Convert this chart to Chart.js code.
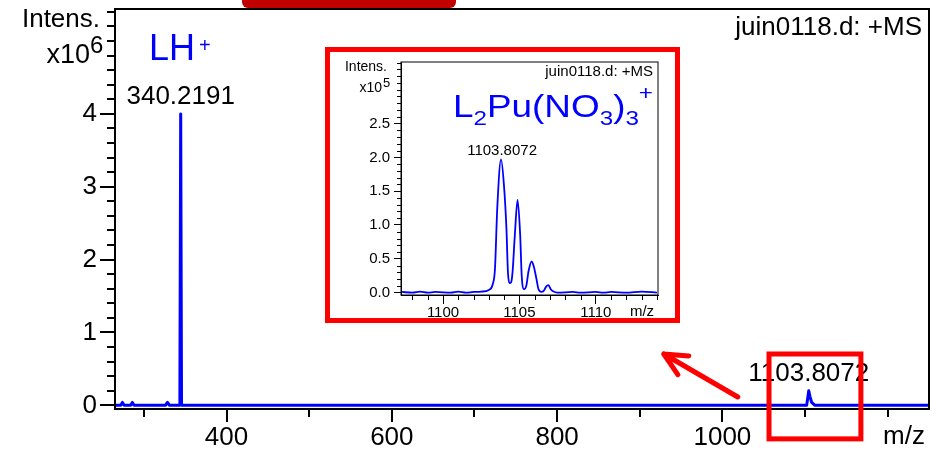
<!DOCTYPE html>
<html>
<head>
<meta charset="utf-8">
<script src="https://cdn.jsdelivr.net/npm/chart.js@4.4.1/dist/chart.umd.min.js"></script>
<style>
  body { margin: 0; background: #fff; }
  #wrap { position: relative; width: 940px; height: 450px; overflow: hidden; }
  #main { position: absolute; left: 0; top: 0; }
  #topbar { position: absolute; left: 242px; top: -6px; width: 214px; height: 14px; background: #c00000; border-radius: 6px; }
  #inset { position: absolute; left: 325px; top: 47px; width: 345px; height: 266px; border: 5px solid #ff0000; background: #fff; overflow: hidden; }
  #insetCanvas { position: absolute; left: 0; top: 0; }
</style>
</head>
<body>
<div id="wrap">
  <canvas id="main" width="940" height="450"></canvas>
  <div id="topbar"></div>
  <div id="inset"><canvas id="insetCanvas" width="345" height="266"></canvas></div>
</div>
<script>
// full spectrum, intensity x10^6
const mainMz = [265, 272, 274, 276, 284, 286, 288, 326, 328.5, 331, 343.5, 344.5, 345.5, 1102, 1104.5, 1106, 1108, 1112, 1250];
const mainIntensity = [0, 0, 0.04, 0, 0, 0.04, 0, 0, 0.04, 0, 0, 4.0, 0, 0, 0.2, 0.12, 0.04, 0, 0];
const mainXTicks = [400, 600, 800, 1000];
const mainXMinor = [300, 500, 700, 900, 1100, 1200];
const mainYTicks = [0, 1, 2, 3, 4];
const mainPeakMz = [344.5, 1104.5];
const mainPeakLabels = ["340.2191", "1103.8072"];

// zoom on the L2Pu(NO3)3+ cluster, intensity x10^5
const insetMz = [1097.3, 1098.0, 1098.5, 1099.0, 1099.5, 1100.5, 1101.0, 1101.5, 1102.0, 1102.5, 1103.0, 1103.25, 1103.4, 1103.55, 1103.8, 1104.0, 1104.15, 1104.25, 1104.35, 1104.45, 1104.55, 1104.7, 1104.88, 1105.05, 1105.15, 1105.3, 1105.45, 1105.6, 1105.8, 1105.95, 1106.1, 1106.25, 1106.45, 1106.6, 1106.75, 1106.9, 1107.05, 1107.2, 1107.5, 1108.5, 1109.0, 1110.0, 1110.5, 1111.0, 1112.0, 1113.0, 1114.0];
const insetIntensity = [0.01, 0.0, 0.015, 0.0, 0.01, 0.0, 0.015, 0.0, 0.01, 0.015, 0.04, 0.12, 0.35, 1.25, 1.97, 1.55, 0.95, 0.3, 0.14, 0.15, 0.3, 0.85, 1.37, 0.85, 0.25, 0.05, 0.1, 0.32, 0.46, 0.38, 0.22, 0.05, 0.01, 0.03, 0.09, 0.11, 0.05, 0.02, 0.0, 0.01, 0.0, 0.01, 0.0, 0.01, 0.0, 0.015, 0.0];
const insetXTicks = [1100, 1105, 1110];
const insetYTicks = [0, 0.5, 1.0, 1.5, 2.0, 2.5];
const insetPeakMz = 1103.8;
const insetPeakLabel = "1103.8072";

const FONT = "'Liberation Sans', Arial, sans-serif";
const BLUE = "#0000ff";
const RED = "#ff0000";
Chart.defaults.font.family = FONT;
Chart.defaults.color = "#000";

const steps = (from, to, step, skip) => {
  const out = [];
  for (let v = from; v <= to + 1e-9; v += step) {
    const r = Math.round(v * 100) / 100;
    if (!skip.some(s => Math.abs(s - r) < 1e-6)) out.push(r);
  }
  return out;
};
const mainYMinor = steps(0, 5.4, 0.2, mainYTicks);
const insetXMinor = steps(1098, 1114, 1, insetXTicks);
const insetYMinor = steps(0, 3.4, 0.1, insetYTicks);

const txt = (ctx, s, x, y, size, align, color) => {
  ctx.font = size + "px " + FONT;
  ctx.fillStyle = color || "#000";
  ctx.textAlign = align || "left";
  ctx.textBaseline = "middle";
  ctx.fillText(s, x, y);
};

// fixed axis size, no extra label padding so the chart area lands where it should
const fit = (w, h) => s => {
  if (w !== null) s.width = w;
  if (h !== null) s.height = h;
  s.paddingTop = 0;
  s.paddingBottom = 0;
  s.paddingLeft = 0;
  s.paddingRight = 0;
};

const frameAndMinor = (lw, yLen, xLen, xMinor, yMinor) => ({
  id: "frameAndMinor",
  afterDatasetsDraw(chart) {
    const { ctx, chartArea: a, scales: { x, y } } = chart;
    ctx.save();
    ctx.strokeStyle = "#000";
    ctx.lineWidth = lw;
    ctx.strokeRect(a.left, a.top, a.right - a.left, a.bottom - a.top);
    ctx.beginPath();
    yMinor.forEach(v => {
      const py = Math.round(y.getPixelForValue(v)) + (lw % 2 ? 0.5 : 0);
      ctx.moveTo(a.left - yLen, py);
      ctx.lineTo(a.left, py);
    });
    xMinor.forEach(v => {
      const px = Math.round(x.getPixelForValue(v)) + (lw % 2 ? 0.5 : 0);
      ctx.moveTo(px, a.bottom);
      ctx.lineTo(px, a.bottom + xLen);
    });
    ctx.stroke();
    ctx.restore();
  }
});

const mainDecor = {
  id: "mainDecor",
  afterDraw(chart) {
    const { ctx, chartArea: a, scales: { x, y } } = chart;
    ctx.save();
    txt(ctx, "Intens.", 100, 20, 26, "right");
    txt(ctx, "x10", 90, 56, 27, "right");
    txt(ctx, "6", 90, 46, 24, "left");
    txt(ctx, "juin0118.d: +MS", a.right - 7, 28, 26, "right");
    txt(ctx, "LH", 149, 50, 36, "left", BLUE);
    txt(ctx, "+", 199, 46, 20, "left", BLUE);
    txt(ctx, "m/z", a.right - 25, 437, 26, "center");
    mainPeakMz.forEach((mz, i) => {
      const h = mainIntensity[mainMz.indexOf(mz)];
      txt(ctx, mainPeakLabels[i], x.getPixelForValue(mz), y.getPixelForValue(h) - 17, 26, "center");
    });
    // red box round the small cluster
    ctx.strokeStyle = RED;
    ctx.lineWidth = 5;
    const bx1 = x.getPixelForValue(1056.4), bx2 = x.getPixelForValue(1167.6);
    const by1 = y.getPixelForValue(0.705), by2 = y.getPixelForValue(-0.46);
    ctx.strokeRect(bx1, by1, bx2 - bx1, by2 - by1);
    // arrow to the inset
    const tx = x.getPixelForValue(1018.6), ty = y.getPixelForValue(0.115);
    const hx = x.getPixelForValue(929.1), hy = y.getPixelForValue(0.705);
    const ang = Math.atan2(ty - hy, tx - hx);
    ctx.lineCap = "round";
    ctx.beginPath();
    ctx.moveTo(tx, ty);
    ctx.lineTo(hx, hy);
    [-0.45, 0.45].forEach(d => {
      ctx.moveTo(hx, hy);
      ctx.lineTo(hx + 25 * Math.cos(ang + d), hy + 25 * Math.sin(ang + d));
    });
    ctx.stroke();
    ctx.restore();
  }
};

const insetDecor = {
  id: "insetDecor",
  afterDraw(chart) {
    const { ctx, chartArea: a, scales: { x, y } } = chart;
    ctx.save();
    txt(ctx, "Intens.", 57, 15, 14, "right");
    txt(ctx, "x10", 52, 36, 14, "right");
    txt(ctx, "5", 53, 31, 13, "left");
    txt(ctx, "juin0118.d: +MS", a.right - 5, 20, 15, "right");
    txt(ctx, "m/z", 312, 260, 15, "center");
    const h = insetIntensity[insetMz.indexOf(insetPeakMz)];
    txt(ctx, insetPeakLabel, x.getPixelForValue(insetPeakMz) + 1, y.getPixelForValue(h) - 9, 15, "center");
    // formula L2Pu(NO3)3+
    const parts = [["L", 0], ["2", 1], ["Pu(NO", 0], ["3", 1], [")", 0], ["3", 1], ["+", 2]];
    const size = [32, 21, 21], dy = [0, 8, -17];
    let w = 0;
    parts.forEach(([s, k]) => { ctx.font = size[k] + "px " + FONT; w += ctx.measureText(s).width; });
    ctx.translate(123, 65);
    ctx.scale(200 / w, 1);
    ctx.fillStyle = BLUE;
    ctx.textAlign = "left";
    ctx.textBaseline = "alphabetic";
    let cx = 0;
    parts.forEach(([s, k]) => {
      ctx.font = size[k] + "px " + FONT;
      ctx.fillText(s, cx, dy[k]);
      cx += ctx.measureText(s).width;
    });
    ctx.restore();
  }
};

new Chart(document.getElementById("main"), {
  type: "line",
  data: {
    datasets: [{
      data: mainMz.map((m, i) => ({ x: m, y: mainIntensity[i] })),
      borderColor: BLUE,
      borderWidth: 3,
      borderJoinStyle: "round",
      pointRadius: 0,
      tension: 0
    }]
  },
  options: {
    responsive: false,
    animation: false,
    events: [],
    layout: { padding: { top: 9, right: 11, left: 0, bottom: 0 } },
    plugins: { legend: { display: false }, tooltip: { enabled: false } },
    scales: {
      x: {
        type: "linear",
        min: 265,
        max: 1250,
        afterBuildTicks: s => { s.ticks = mainXTicks.map(v => ({ value: v })); },
        afterFit: fit(null, 41),
        grid: { drawOnChartArea: false, tickLength: 13, lineWidth: 2, color: "#000" },
        border: { color: "#000", width: 2 },
        ticks: { autoSkip: false, maxRotation: 0, padding: 0, font: { size: 26 }, color: "#000", callback: v => String(v) }
      },
      y: {
        type: "linear",
        min: -0.05,
        max: 5.44,
        afterBuildTicks: s => { s.ticks = mainYTicks.map(v => ({ value: v })); },
        afterFit: fit(115, null),
        grid: { drawOnChartArea: false, tickLength: 15, lineWidth: 2, color: "#000" },
        border: { color: "#000", width: 2 },
        ticks: { padding: 3, font: { size: 26 }, color: "#000", callback: v => String(v) }
      }
    }
  },
  plugins: [frameAndMinor(2, 8, 8, mainXMinor, mainYMinor), mainDecor]
});

new Chart(document.getElementById("insetCanvas"), {
  type: "line",
  data: {
    datasets: [{
      data: insetMz.map((m, i) => ({ x: m, y: insetIntensity[i] })),
      borderColor: BLUE,
      borderWidth: 1.8,
      pointRadius: 0,
      cubicInterpolationMode: "monotone"
    }]
  },
  options: {
    responsive: false,
    animation: false,
    events: [],
    layout: { padding: { top: 10, right: 17, left: 0, bottom: 0 } },
    plugins: { legend: { display: false }, tooltip: { enabled: false } },
    scales: {
      x: {
        type: "linear",
        min: 1097.25,
        max: 1114.07,
        afterBuildTicks: s => { s.ticks = insetXTicks.map(v => ({ value: v })); },
        afterFit: fit(null, 23),
        grid: { drawOnChartArea: false, tickLength: 9, lineWidth: 1, color: "#000" },
        border: { color: "#000", width: 1 },
        ticks: { autoSkip: false, maxRotation: 0, padding: 0, font: { size: 15 }, color: "#000", callback: v => String(v) }
      },
      y: {
        type: "linear",
        min: -0.035,
        max: 3.41,
        afterBuildTicks: s => { s.ticks = insetYTicks.map(v => ({ value: v })); },
        afterFit: fit(71, null),
        grid: { drawOnChartArea: false, tickLength: 7, lineWidth: 1, color: "#000" },
        border: { color: "#000", width: 1 },
        ticks: { padding: 4, font: { size: 15 }, color: "#000", callback: v => v.toFixed(1) }
      }
    }
  },
  plugins: [frameAndMinor(1, 4, 5, insetXMinor, insetYMinor), insetDecor]
});
</script>
</body>
</html>
